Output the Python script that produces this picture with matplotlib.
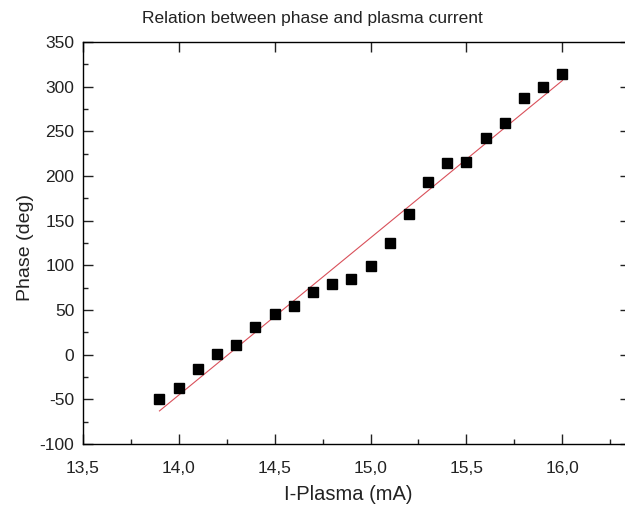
import numpy as np
import matplotlib
matplotlib.use("Agg")
import matplotlib.pyplot as plt
from matplotlib.ticker import MultipleLocator, FuncFormatter

current = [13.9, 14.0, 14.1, 14.2, 14.3, 14.4, 14.5, 14.6, 14.7, 14.8, 14.9,
           15.0, 15.1, 15.2, 15.3, 15.4, 15.5, 15.6, 15.7, 15.8, 15.9, 16.0]
phase = [-50, -37, -16, 1, 11, 31, 46, 55, 70, 79, 85,
         99, 125, 157, 193, 215, 216, 243, 259, 287, 300, 314]

plt.rcParams['font.family'] = ['Liberation Sans', 'DejaVu Sans']

fig = plt.figure(figsize=(6.25, 5.09), dpi=100)
ax = fig.add_axes([0.1323, 0.1277, 0.875, 0.7898])

slope, intercept = np.polyfit(current, phase, 1)
xf = np.array([current[0], current[-1]])
ax.plot(xf, slope * xf + intercept, color='#d9505a', lw=0.8, zorder=2)
ax.plot(current, phase, 's', color='black', markersize=7.8, zorder=3)

ax.set_xlim(13.5, 16.35)
ax.set_ylim(-100, 350)
ax.xaxis.set_major_locator(MultipleLocator(0.5))
ax.xaxis.set_minor_locator(MultipleLocator(0.25))
ax.yaxis.set_major_locator(MultipleLocator(50))
ax.yaxis.set_minor_locator(MultipleLocator(25))
ax.xaxis.set_major_formatter(FuncFormatter(lambda v, p: f"{v:.1f}".replace('.', ',')))
ax.yaxis.set_major_formatter(FuncFormatter(lambda v, p: f"{int(round(v))}"))

ax.tick_params(which='both', direction='in', top=True, right=True,
               labelsize=12.5, colors='#222222', width=1)
ax.tick_params(which='major', length=7)
ax.tick_params(which='minor', length=3.5)
ax.tick_params(axis='x', which='minor', top=False)
ax.tick_params(axis='y', which='minor', right=False)
ax.tick_params(axis='x', which='major', pad=12)
ax.tick_params(axis='y', which='major', pad=6)
for s in ax.spines.values():
    s.set_linewidth(1.0)

ax.set_xlabel('I-Plasma (mA)', fontsize=14.5, labelpad=7, color='#222222')
ax.xaxis.label.set_x(0.485)
ax.set_ylabel('Phase (deg)', fontsize=14, labelpad=4, color='#222222')
ax.yaxis.label.set_y(0.49)
ax.set_title('Relation between phase and plasma current', fontsize=12.5,
             pad=14, color='#222222', x=0.42)

fig.savefig('out.png', dpi=100)
